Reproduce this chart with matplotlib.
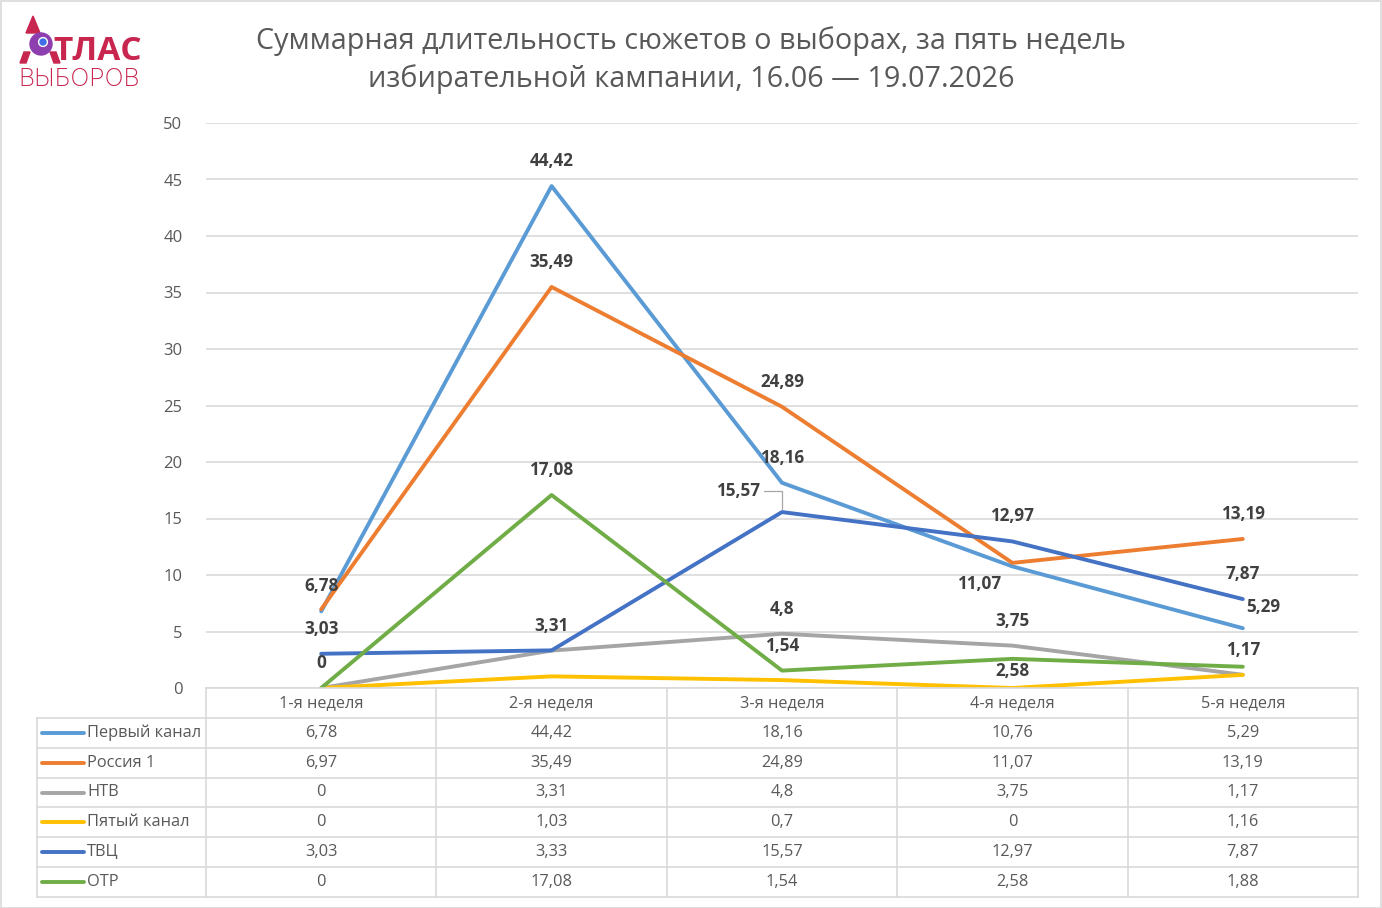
import matplotlib.pyplot as plt
from matplotlib.patches import Circle, Polygon, Rectangle
from matplotlib.lines import Line2D

plt.rcParams['font.family'] = ['Open Sans', 'DejaVu Sans']

weeks = ['1-я неделя', '2-я неделя', '3-я неделя', '4-я неделя', '5-я неделя']
channels = ['Первый канал', 'Россия 1', 'НТВ', 'Пятый канал', 'ТВЦ', 'ОТР']
perviy = [6.78, 44.42, 18.16, 10.76, 5.29]
rossiya = [6.97, 35.49, 24.89, 11.07, 13.19]
ntv = [0, 3.31, 4.8, 3.75, 1.17]
pyatiy = [0, 1.03, 0.7, 0, 1.16]
tvc = [3.03, 3.33, 15.57, 12.97, 7.87]
otr = [0, 17.08, 1.54, 2.58, 1.88]
series = [perviy, rossiya, ntv, pyatiy, tvc, otr]
colors = ['#5B9BD5', '#ED7D31', '#A5A5A5', '#FFC000', '#4472C4', '#70AD47']

# which points carry a data label, and where (offset in points)
labels = {
    (0, 0): (0, 18), (0, 1): (0, 18), (0, 2): (0, 18), (0, 4): (15, 15),
    (1, 1): (0, 18), (1, 2): (0, 18), (1, 3): (-24, -15), (1, 4): (0, 18),
    (2, 0): (0, 18), (2, 1): (0, 18), (2, 2): (0, 18), (2, 3): (0, 18), (2, 4): (0, 18),
    (4, 0): (0, 18), (4, 2): (-32, 15), (4, 3): (0, 18), (4, 4): (0, 18),
    (5, 1): (0, 18), (5, 2): (0, 18), (5, 3): (0, -9),
}

def fmt(v):
    return f"{v:g}".replace('.', ',')

W, H = 1382, 908
fig = plt.figure(figsize=(W / 100, H / 100), dpi=100)
fig.patches.append(Rectangle((0.5 / W, 0.5 / H), 1 - 1.5 / W, 1 - 1.5 / H, transform=fig.transFigure,
                             fill=False, edgecolor='#d9d9d9', linewidth=1.2))

def rect(x0, y0, x1, y1):
    return [x0 / W, 1 - y1 / H, (x1 - x0) / W, (y1 - y0) / H]

ax = fig.add_axes(rect(206, 123, 1358, 688))
x = list(range(len(weeks)))
for i, s in enumerate(series):
    ax.plot(x, s, color=colors[i], lw=2.8, solid_capstyle='round', solid_joinstyle='round', zorder=3)
for (si, pi), off in labels.items():
    v = series[si][pi]
    ax.annotate(fmt(v), (pi, v), xytext=off, textcoords='offset points', ha='center', va='center',
                fontsize=12.3, fontweight='bold', color='#404040', zorder=5)
# leader line for ТВЦ week 3
ax.annotate('', (2, tvc[2]), xytext=(-15, 15), textcoords='offset points',
            arrowprops=dict(arrowstyle='-', color='#a6a6a6', lw=0.9,
                            connectionstyle='angle,angleA=0,angleB=90,rad=0'))
ax.set_xlim(-0.5, 4.5)
ax.set_ylim(0, 50)
ax.set_yticks(range(0, 51, 5))
ax.set_xticks([])
ax.grid(axis='y', color='#d9d9d9', lw=1.2)
ax.set_axisbelow(True)
for sp in ax.spines.values():
    sp.set_visible(False)
ax.tick_params(axis='y', length=0, labelsize=12, labelcolor='#595959', pad=17)

# data table
tb = fig.add_axes(rect(206, 688, 1358, 897))
tb.set_xlim(-0.5, 4.5)
tb.set_ylim(7, 0)
tb.axis('off')
xl = -0.5 - (206 - 37) / 230.4
gc = '#d9d9d9'
for k in range(6):
    tb.plot([k - 0.5, k - 0.5], [0, 7], color=gc, lw=1.2, clip_on=False)
tb.plot([xl, xl], [1, 7], color=gc, lw=1.2, clip_on=False)
tb.plot([-0.5, 4.5], [0, 0], color=gc, lw=1.2, clip_on=False)
for r in range(1, 8):
    tb.plot([xl, 4.5], [r, r], color=gc, lw=1.2, clip_on=False)
for j, w in enumerate(weeks):
    tb.text(j, 0.5, w, ha='center', va='center', fontsize=11.8, color='#595959')
for i, s in enumerate(series):
    yy = i + 1.5
    tb.add_line(Line2D([xl + 5 / 230.4, xl + 47 / 230.4], [yy, yy], color=colors[i], lw=2.8,
                       solid_capstyle='round', clip_on=False))
    tb.text(xl + 50 / 230.4, yy, channels[i], ha='left', va='center', fontsize=11.8, color='#595959',
            clip_on=False)
    for j, v in enumerate(s):
        tb.text(j, yy, fmt(v), ha='center', va='center', fontsize=11.8, color='#595959')

# title
fig.text(691 / W, 1 - 41 / H, 'Суммарная длительность сюжетов о выборах, за пять недель',
         ha='center', va='center', fontsize=20.7, color='#595959')
fig.text(691 / W, 1 - 79 / H, 'избирательной кампании, 16.06 — 19.07.2026',
         ha='center', va='center', fontsize=20.7, color='#595959')

# logo
crim = '#C8254F'
lg = fig.add_axes([0, 0, 1, 1], zorder=10)
lg.set_xlim(0, W)
lg.set_ylim(H, 0)
lg.axis('off')
lg.add_patch(Polygon([[33, 16], [40, 33], [26, 33]], closed=True, color=crim))
lg.add_patch(Polygon([[24, 52], [30, 52], [26, 63], [20, 63]], closed=True, color=crim))
lg.add_patch(Polygon([[50, 52], [56, 52], [60, 63], [54, 63]], closed=True, color=crim))
lg.add_patch(Circle((41, 44), 11, color='#8E3FAF'))
lg.add_patch(Circle((43, 42), 4.4, color='white'))
lg.add_patch(Circle((43, 42), 3.0, color='#3E6FE8'))
lg.text(53, 51, 'ТЛАС', ha='left', va='center', fontsize=24, fontweight='bold', color=crim)
lg.text(18, 80, 'ВЫБОРОВ', ha='left', va='center', fontsize=18, fontweight='light', color=crim,
        family=['Inter', 'DejaVu Sans'])

fig.savefig('out.png', dpi=100)
